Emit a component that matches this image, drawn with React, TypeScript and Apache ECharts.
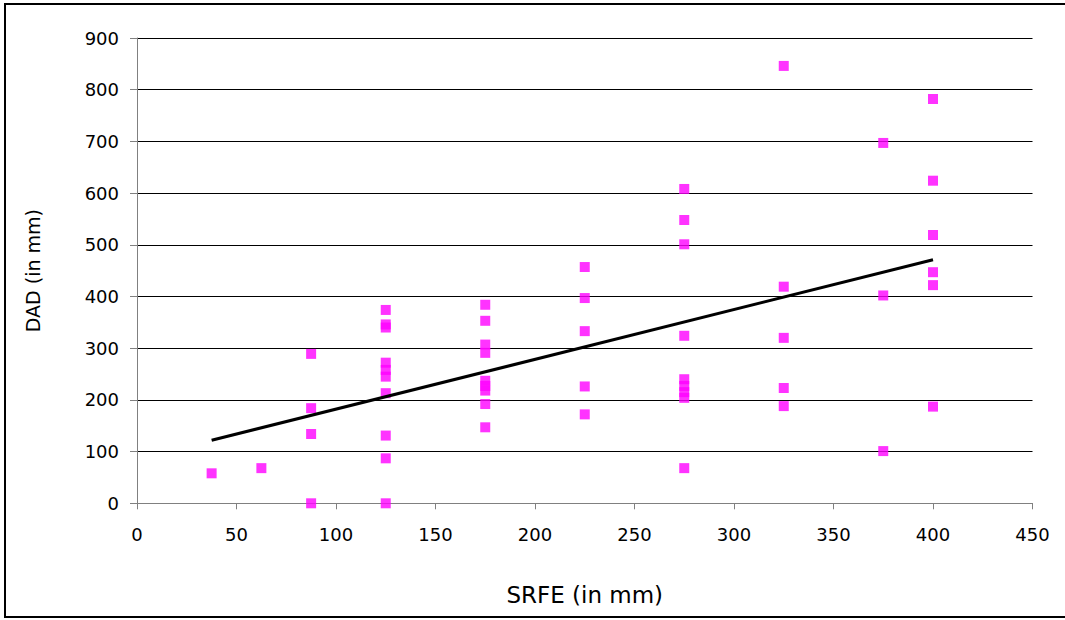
import React, { useEffect, useRef } from "react";
import * as echarts from "echarts";

const xTicks = [0, 50, 100, 150, 200, 250, 300, 350, 400, 450];
const yTicks = [0, 100, 200, 300, 400, 500, 600, 700, 800, 900];

const xCols = [37.5, 62.5, 87.5, 125, 175, 225, 275, 325, 375, 400];
const yByCol: number[][] = [
  [58],
  [68],
  [289, 184, 134, 0],
  [374, 346, 340, 272, 258, 245, 213, 131, 87, 0],
  [384, 353, 307, 291, 237, 227, 218, 192, 147],
  [457, 397, 333, 226, 172],
  [608, 548, 501, 324, 240, 227, 215, 204, 68],
  [846, 419, 320, 223, 188],
  [697, 402, 101],
  [782, 624, 519, 447, 422, 187],
];

const trendX = [37.5, 400];
const trendY = [122, 471];

const xName = "SRFE (in mm)";
const yName = "DAD (in mm)";

export default function App() {
  const ref = useRef<HTMLDivElement>(null);
  useEffect(() => {
    document.body.style.margin = "0";
    const chart = echarts.init(ref.current!, null, { renderer: "svg" });
    const points: number[][] = [];
    xCols.forEach((x, i) => yByCol[i].forEach((y) => points.push([x, y])));
    const font = "DejaVu Sans, Verdana, sans-serif";
    chart.setOption({
      animation: false,
      backgroundColor: "#fff",
      grid: { left: 137, right: 32.5, top: 38, bottom: 116.7, containLabel: false },
      xAxis: {
        type: "value",
        min: 0,
        max: 450,
        interval: 50,
        name: xName,
        nameLocation: "middle",
        nameGap: 80,
        nameTextStyle: { fontFamily: font, fontSize: 23, color: "#000" },
        axisLine: { show: true, onZero: false, lineStyle: { color: "#808080", width: 1 } },
        axisTick: { show: true, inside: false, length: 6, lineStyle: { color: "#808080" } },
        axisLabel: { margin: 22, fontFamily: font, fontSize: 18, color: "#000" },
        splitLine: { show: false },
      },
      yAxis: {
        type: "value",
        min: 0,
        max: 900,
        interval: 100,
        name: yName,
        nameLocation: "middle",
        nameGap: 95,
        nameRotate: 90,
        nameTextStyle: { fontFamily: font, fontSize: 19, color: "#000" },
        axisLine: { show: true, lineStyle: { color: "#808080", width: 1 } },
        axisTick: { show: true, inside: false, length: 7, lineStyle: { color: "#808080" } },
        axisLabel: { margin: 18, fontFamily: font, fontSize: 18, color: "#000" },
        splitLine: { show: true, lineStyle: { color: "#000", width: 1 } },
      },
      graphic: [
        {
          type: "rect",
          shape: { x: 5, y: 4, width: 1080, height: 613 },
          style: { fill: "none", stroke: "#000", lineWidth: 2 },
          silent: true,
          z: 100,
        },
      ],
      series: [
        {
          type: "scatter",
          data: points,
          symbol: "rect",
          symbolSize: 10,
          itemStyle: { color: "#FF00FF" },
          z: 3,
        },
        {
          type: "line",
          data: trendX.map((x, i) => [x, trendY[i]]),
          showSymbol: false,
          symbol: "none",
          lineStyle: { color: "#000", width: 3 },
          z: 4,
        },
      ],
    });
    return () => chart.dispose();
  }, []);
  return <div ref={ref} style={{ width: 1065, height: 620 }} />;
}
